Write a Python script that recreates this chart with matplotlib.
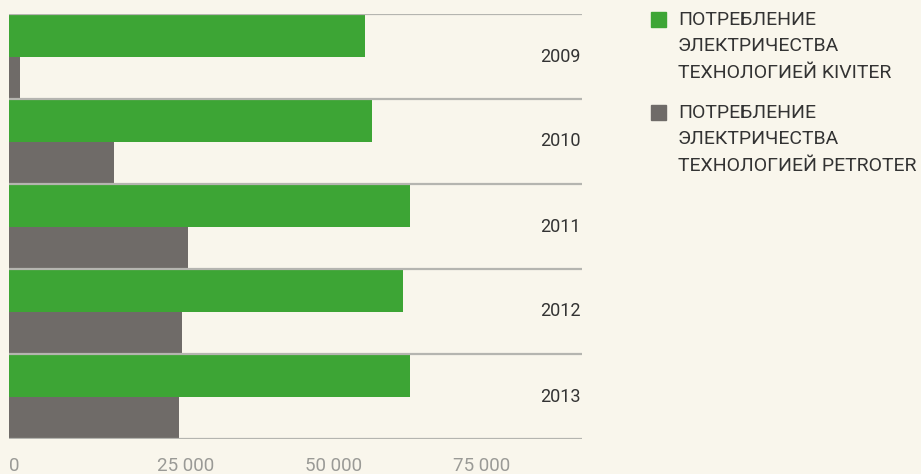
import matplotlib
matplotlib.use('Agg')

import matplotlib.pyplot as plt
from matplotlib.patches import Rectangle
import numpy as np

years = ["2009", "2010", "2011", "2012", "2013"]
kiviter = [60100, 61300, 67700, 66600, 67700]
petroter = [1900, 17700, 30200, 29200, 28700]
xticks = [0, 25000, 50000, 75000]
xticklabels = ["0", "25 000", "50 000", "75 000"]
legendLabels = ["ПОТРЕБЛЕНИЕ\nЭЛЕКТРИЧЕСТВА\nТЕХНОЛОГИЕЙ KIVITER",
                "ПОТРЕБЛЕНИЕ\nЭЛЕКТРИЧЕСТВА\nТЕХНОЛОГИЕЙ PETROTER"]

bg = "#f9f6ec"
green = "#3da535"
grey = "#6f6b68"
lineColor = "#b5b5b0"

plt.rcParams['font.family'] = ['Roboto', 'DejaVu Sans']

W, H = 921, 474
fig = plt.figure(figsize=(W / 100, H / 100), dpi=100, facecolor=bg)
ax = fig.add_axes([9 / W, (H - 439) / H, (582 - 9) / W, (439 - 14) / H])
ax.set_facecolor(bg)

pos = np.arange(len(years))
ax.barh(pos + 0.25, kiviter, height=0.5, color=green, zorder=2)
ax.barh(pos + 0.75, petroter, height=0.5, color=grey, zorder=2)

for i, year in enumerate(years):
    ax.text(0.997, i + 0.5, year, transform=ax.get_yaxis_transform(),
            ha='right', va='center', fontsize=13, color="#333333")
for i in range(len(years) + 1):
    ax.axhline(i, color=lineColor, lw=1.6, zorder=3)

ax.set_ylim(len(years), 0)
ax.set_xlim(0, 96800)
ax.set_yticks([])
ax.set_xticks(xticks)
ax.set_xticklabels(xticklabels, ha='left', fontsize=13.5, color="#9a9a96")
ax.tick_params(axis='x', length=0, pad=13)
for s in ax.spines.values():
    s.set_visible(False)

# legend
for k, (lab, col) in enumerate(zip(legendLabels, [green, grey])):
    top = 12 + k * 93
    fig.patches.append(Rectangle((651 / W, (H - top - 15) / H), 15 / W, 15 / H,
                                 transform=fig.transFigure, color=col))
    fig.text(678 / W, (H - top + 1) / H, lab, ha='left', va='top',
             fontsize=14, color="#333333", linespacing=1.6)

fig.savefig("out.png", dpi=100, facecolor=bg)
